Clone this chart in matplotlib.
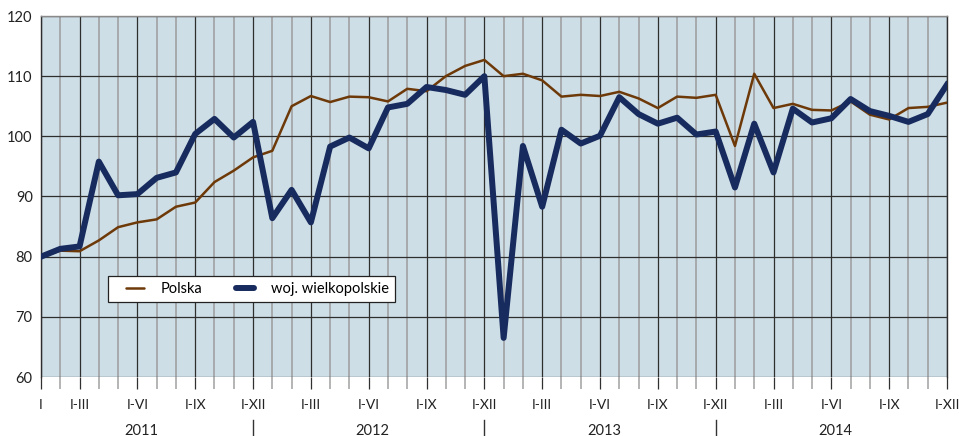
import matplotlib
matplotlib.use("Agg")
import matplotlib.pyplot as plt
from matplotlib.lines import Line2D
from matplotlib.legend_handler import HandlerLine2D
from matplotlib.transforms import blended_transform_factory
import numpy as np

plt.rcParams['font.family'] = ['Lato', 'DejaVu Sans']

# Monthly index values, Jan 2011 .. Dec 2014 (cumulative I..n)
polska = [80.0, 81.0, 80.9, 82.7, 84.9, 85.7, 86.2, 88.3, 89.0, 92.4, 94.3, 96.5,
          97.6, 105.0, 106.7, 105.7, 106.6, 106.5, 105.8, 107.9, 107.5, 110.0, 111.7, 112.7,
          110.0, 110.4, 109.3, 106.6, 106.9, 106.7, 107.4, 106.3, 104.7, 106.6, 106.4, 106.9,
          98.4, 110.4, 104.7, 105.4, 104.4, 104.3, 105.8, 103.6, 102.8, 104.7, 104.9, 105.6]
wielkopolskie = [80.0, 81.3, 81.7, 95.8, 90.2, 90.4, 93.1, 94.0, 100.4, 102.9, 99.8, 102.4,
                 86.4, 91.1, 85.7, 98.3, 99.8, 98.0, 104.8, 105.4, 108.2, 107.7, 106.9, 110.0,
                 66.5, 98.4, 88.3, 101.1, 98.8, 100.1, 106.5, 103.7, 102.1, 103.1, 100.3, 100.8,
                 91.5, 102.1, 94.0, 104.6, 102.3, 103.0, 106.2, 104.2, 103.4, 102.4, 103.7, 108.6]
series_names = ["Polska", "woj. wielkopolskie"]
years = ["2011", "2012", "2013", "2014"]
quarter_labels = ["I-III", "I-VI", "I-IX", "I-XII"]
first_label = "I"

months = np.arange(len(polska))


class OffsetLineHandler(HandlerLine2D):
    """Draws the legend line only in the right part of the handle box."""
    def __init__(self, offset, **kw):
        super().__init__(**kw)
        self.offset = offset

    def create_artists(self, legend, orig_handle, xdescent, ydescent, width, height,
                       fontsize, trans):
        arts = super().create_artists(legend, orig_handle, xdescent - self.offset, ydescent,
                                      width - self.offset, height, fontsize, trans)
        for a in arts:
            a.set_solid_capstyle('round')
        return arts


fig = plt.figure(figsize=(9.6, 4.36), dpi=100)
ax = fig.add_axes([41/960, 1-377/436, (947-41)/960, (377-16)/436])
ax.set_facecolor('#cddee6')

l1, = ax.plot(months, polska, color='#6e3908', lw=1.8, label=series_names[0], zorder=4)
l2, = ax.plot(months, wielkopolskie, color='#172b5e', lw=4.3, label=series_names[1], zorder=5)

ax.set_xlim(0, len(polska) - 1)
ax.set_ylim(60, 120)
ax.set_yticks(np.arange(60, 121, 10))

# x ticks
major_pos = [0]
major_lab = [first_label]
for y in range(len(years)):
    for q in range(4):
        major_pos.append(12*y + 3*q + 2)
        major_lab.append(quarter_labels[q])
minor_pos = [m for m in months if m not in major_pos]
ax.set_xticks(major_pos)
ax.set_xticklabels(major_lab)
ax.set_xticks(minor_pos, minor=True)

ax.tick_params(axis='x', which='major', length=8.6, width=0.9, color='#303030',
               pad=7, labelsize=10, labelcolor='#222222')
ax.tick_params(axis='x', which='minor', length=8.6, width=1.1, color='#a0a0a0')
ax.tick_params(axis='y', length=0, pad=6, labelsize=10.5, labelcolor='#222222')

ax.grid(axis='x', which='minor', color='#9c9c9c', lw=1.1, zorder=1)
ax.grid(axis='x', which='major', color='#2e2e2e', lw=0.9, zorder=2)
ax.grid(axis='y', which='major', color='#2e2e2e', lw=0.9, zorder=2)
ax.set_axisbelow(True)

ax.spines['top'].set_color('#8a8a8a')
ax.spines['top'].set_linewidth(1.0)
ax.spines['left'].set_color('#2e2e2e')
ax.spines['left'].set_linewidth(1.0)
ax.spines['right'].set_color('#2e2e2e')
ax.spines['right'].set_linewidth(1.0)
ax.spines['bottom'].set_visible(False)

# year labels and separators
tr = blended_transform_factory(ax.transData, fig.transFigure)
for k, yr in enumerate(years):
    fig.text(12*k + 5.2, 0.003, yr, transform=tr, ha='center', va='baseline',
             fontsize=10.5, color='#222222')
    if k < len(years) - 1:
        fig.add_artist(Line2D([12*k + 11, 12*k + 11], [1-420/436, 0.0], transform=tr,
                              color='#333333', lw=1.0))

fs = 10.5
leg = ax.legend(handles=[l1, l2], loc='lower left', bbox_to_anchor=(108/960, 1-302/436),
                bbox_transform=fig.transFigure,
                ncol=2, frameon=True, fancybox=False, edgecolor='#222222', framealpha=1,
                facecolor='white', fontsize=fs, handlelength=2.05, handletextpad=1.15,
                columnspacing=1.5, borderpad=0.42, borderaxespad=0,
                handler_map={Line2D: OffsetLineHandler(offset=8.5)})
leg.get_frame().set_linewidth(0.9)
leg.set_zorder(6)

fig.savefig('out.png', dpi=100)
